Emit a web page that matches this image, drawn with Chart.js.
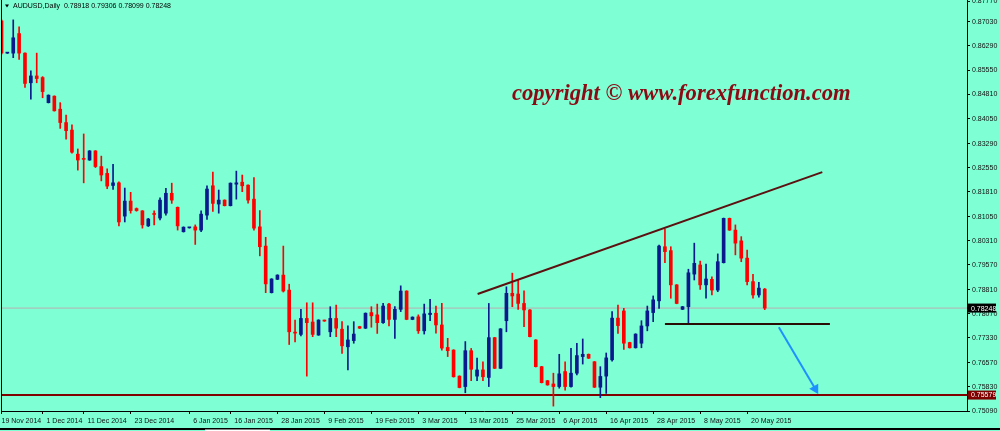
<!DOCTYPE html>
<html>
<head>
<meta charset="utf-8">
<script src="https://cdn.jsdelivr.net/npm/chart.js@4.4.1/dist/chart.umd.min.js"></script>
<style>
  html, body { margin: 0; padding: 0; background: #7fffd4; }
  #wrap { width: 1000px; height: 431px; position: relative; overflow: hidden; }
</style>
</head>
<body>
<div id="wrap"><canvas id="chart" width="1000" height="431"></canvas></div>
<script>
// AUDUSD daily, 19 Nov 2014 .. 22 May 2015 (one entry per bar)
let opens = [
  0.8706, 0.8607, 0.8607, 0.8667, 0.8607, 0.8516, 0.8537, 0.8532, 0.8455, 0.8475,
  0.8435, 0.8394, 0.8371, 0.8297, 0.8284, 0.8279, 0.8307, 0.8259, 0.8238, 0.8201,
  0.8209, 0.8107, 0.8153, 0.8130, 0.8123, 0.8077, 0.8114, 0.8101, 0.8116, 0.8177,
  0.8134, 0.8059, 0.8071, 0.8074, 0.8064, 0.8110, 0.8200, 0.8144, 0.8156, 0.8139,
  0.8205, 0.8211, 0.8202, 0.8159, 0.8074, 0.8015, 0.7872, 0.7913, 0.7926, 0.7880,
  0.7751, 0.7744, 0.7793, 0.7782, 0.7742, 0.7787, 0.7752, 0.7793, 0.7760, 0.7706,
  0.7725, 0.7768, 0.7763, 0.7811, 0.7804, 0.7780, 0.7837, 0.7790, 0.7821, 0.7877,
  0.7790, 0.7798, 0.7755, 0.7805, 0.7809, 0.7773, 0.7704, 0.7696, 0.7616, 0.7584,
  0.7694, 0.7616, 0.7635, 0.7612, 0.7734, 0.7640, 0.7786, 0.7870, 0.7868, 0.7839,
  0.7819, 0.7727, 0.7645, 0.7602, 0.7592, 0.7584, 0.7630, 0.7584, 0.7625, 0.7676,
  0.7683, 0.7660, 0.7582, 0.7616, 0.7666, 0.7794, 0.7816, 0.7719, 0.7703, 0.7717,
  0.7770, 0.7811, 0.7847, 0.8013, 0.8001, 0.7896, 0.7821, 0.7829, 0.7929, 0.7957,
  0.7896, 0.7913, 0.7880, 0.7964, 0.8100, 0.8064, 0.8031, 0.7978, 0.7906, 0.7865,
  0.7883
];
let highs = [
  0.8709, 0.8608, 0.8709, 0.8688, 0.8608, 0.8553, 0.8607, 0.8535, 0.8479, 0.8476,
  0.8455, 0.8417, 0.8387, 0.8313, 0.8359, 0.8308, 0.8308, 0.8291, 0.8252, 0.8266,
  0.8212, 0.8193, 0.8180, 0.8132, 0.8124, 0.8100, 0.8123, 0.8163, 0.8192, 0.8208,
  0.8135, 0.8074, 0.8072, 0.8080, 0.8123, 0.8200, 0.8242, 0.8187, 0.8157, 0.8209,
  0.8245, 0.8233, 0.8203, 0.8225, 0.8124, 0.8042, 0.7915, 0.7927, 0.8015, 0.7898,
  0.7788, 0.7821, 0.7841, 0.7841, 0.7789, 0.7788, 0.7829, 0.7834, 0.7783, 0.7770,
  0.7783, 0.7769, 0.7810, 0.7829, 0.7837, 0.7839, 0.7839, 0.7829, 0.7893, 0.7878,
  0.7798, 0.7804, 0.7837, 0.7852, 0.7831, 0.7839, 0.7732, 0.7697, 0.7617, 0.7722,
  0.7701, 0.7671, 0.7660, 0.7839, 0.7735, 0.7762, 0.7890, 0.7932, 0.7911, 0.7878,
  0.7820, 0.7728, 0.7646, 0.7603, 0.7625, 0.7683, 0.7660, 0.7701, 0.7717, 0.7730,
  0.7684, 0.7661, 0.7645, 0.7687, 0.7814, 0.7834, 0.7824, 0.7720, 0.7746, 0.7786,
  0.7831, 0.7862, 0.8018, 0.8067, 0.8013, 0.7897, 0.7830, 0.7944, 0.8024, 0.7969,
  0.7960, 0.7921, 0.7991, 0.8101, 0.8101, 0.8080, 0.8044, 0.8003, 0.7928, 0.7904,
  0.7885
];
let lows = [
  0.8604, 0.8606, 0.8593, 0.8588, 0.8502, 0.8466, 0.8516, 0.8470, 0.8454, 0.8429,
  0.8376, 0.8343, 0.8300, 0.8248, 0.8209, 0.8278, 0.8256, 0.8215, 0.8191, 0.8189,
  0.8077, 0.8089, 0.8116, 0.8122, 0.8070, 0.8075, 0.8080, 0.8095, 0.8110, 0.8146,
  0.8064, 0.8058, 0.8070, 0.8020, 0.8059, 0.8097, 0.8121, 0.8116, 0.8138, 0.8138,
  0.8159, 0.8182, 0.8147, 0.8064, 0.7985, 0.7872, 0.7871, 0.7912, 0.7874, 0.7713,
  0.7721, 0.7739, 0.7616, 0.7737, 0.7741, 0.7784, 0.7737, 0.7737, 0.7686, 0.7635,
  0.7717, 0.7762, 0.7762, 0.7766, 0.7747, 0.7778, 0.7770, 0.7732, 0.7814, 0.7789,
  0.7789, 0.7747, 0.7745, 0.7786, 0.7748, 0.7696, 0.7676, 0.7613, 0.7580, 0.7565,
  0.7602, 0.7602, 0.7602, 0.7584, 0.7639, 0.7639, 0.7752, 0.7829, 0.7821, 0.7768,
  0.7736, 0.7644, 0.7595, 0.7588, 0.7524, 0.7579, 0.7573, 0.7582, 0.7620, 0.7653,
  0.7670, 0.7581, 0.7550, 0.7563, 0.7662, 0.7747, 0.7698, 0.7702, 0.7702, 0.7703,
  0.7755, 0.7783, 0.7824, 0.7964, 0.7855, 0.7838, 0.7820, 0.7776, 0.7911, 0.7882,
  0.7855, 0.7865, 0.7875, 0.7963, 0.8063, 0.7988, 0.7967, 0.7896, 0.7855, 0.7858,
  0.7820
];
let closes = [
  0.8607, 0.8607, 0.8654, 0.8607, 0.8514, 0.8537, 0.8529, 0.8489, 0.8478, 0.8430,
  0.8394, 0.8369, 0.8303, 0.8279, 0.8281, 0.8307, 0.8259, 0.8233, 0.8199, 0.8209,
  0.8089, 0.8153, 0.8124, 0.8124, 0.8080, 0.8098, 0.8112, 0.8156, 0.8177, 0.8156,
  0.8077, 0.8073, 0.8071, 0.8064, 0.8113, 0.8190, 0.8146, 0.8156, 0.8139, 0.8208,
  0.8209, 0.8200, 0.8156, 0.8070, 0.8013, 0.7899, 0.7914, 0.7926, 0.7877, 0.7752,
  0.7748, 0.7793, 0.7780, 0.7744, 0.7788, 0.7785, 0.7793, 0.7763, 0.7709, 0.7727,
  0.7745, 0.7763, 0.7809, 0.7801, 0.7780, 0.7831, 0.7790, 0.7821, 0.7877, 0.7790,
  0.7797, 0.7755, 0.7807, 0.7809, 0.7773, 0.7702, 0.7694, 0.7614, 0.7581, 0.7694,
  0.7637, 0.7635, 0.7614, 0.7734, 0.7640, 0.7761, 0.7870, 0.7862, 0.7839, 0.7819,
  0.7737, 0.7645, 0.7596, 0.7589, 0.7584, 0.7623, 0.7584, 0.7625, 0.7679, 0.7683,
  0.7671, 0.7582, 0.7615, 0.7672, 0.7794, 0.7771, 0.7717, 0.7703, 0.7745, 0.7770,
  0.7816, 0.7850, 0.8015, 0.7998, 0.7896, 0.7839, 0.7829, 0.7933, 0.7962, 0.7896,
  0.7914, 0.7880, 0.7967, 0.8100, 0.8064, 0.8024, 0.7978, 0.7906, 0.7865, 0.7886,
  0.78248
];

// time axis labels (bar index -> text)
let dateBars = [0, 7, 14, 22, 32, 39, 47, 55, 63, 71, 79, 87, 95, 103, 111, 119, 127];
let dateText = ["19 Nov 2014", "1 Dec 2014", "11 Dec 2014", "23 Dec 2014", "6 Jan 2015",
  "16 Jan 2015", "28 Jan 2015", "9 Feb 2015", "19 Feb 2015", "3 Mar 2015", "13 Mar 2015",
  "25 Mar 2015", "6 Apr 2015", "16 Apr 2015", "28 Apr 2015", "8 May 2015", "20 May 2015"];

// price axis labels
let priceTicks = [0.87770, 0.87030, 0.86290, 0.85550, 0.84810, 0.84050, 0.83290, 0.82550,
  0.81810, 0.81050, 0.80310, 0.79570, 0.78810, 0.78070, 0.77330, 0.76570, 0.75830, 0.75090];

// drawn objects
let bidPrice = 0.78248;
let supportPrice = 0.75579;
let trendX = [81.1, 139.8];
let trendY = [0.7868, 0.8242];
let neckX = [113.0, 141.1];
let neckY = [0.7776, 0.7776];
let arrowX = [132.4, 138.6];
let arrowY = [0.7766, 0.7577];

const X_MIN = -0.085, X_MAX = 164.45;
const Y_MIN = 0.7509, Y_MAX = 0.8770;
const BULL = "#0a1a8c", BEAR = "#ff0000";
const BG = "#7fffd4";

function candleColor(i) {
  return closes[i] >= opens[i] ? BULL : BEAR;
}

let wickData = opens.map((o, i) => ({ x: i, y: [lows[i], highs[i]] }));
let bodyData = opens.map((o, i) => ({ x: i, y: [o, closes[i]] }));

function pts(xs, ys) {
  return xs.map((x, i) => ({ x: x, y: ys[i] }));
}

const overlay = {
  id: "overlay",
  beforeDraw(chart) {
    const c = chart.ctx;
    c.save();
    c.fillStyle = BG;
    c.fillRect(0, 0, chart.width, chart.height);
    c.restore();
  },
  afterDraw(chart) {
    const c = chart.ctx;
    const a = chart.chartArea;
    const ys = chart.scales.y;
    c.save();
    // frame left side
    c.strokeStyle = "#000";
    c.lineWidth = 1;
    c.beginPath();
    c.moveTo(a.left + 0.5, 0);
    c.lineTo(a.left + 0.5, a.bottom);
    c.stroke();

    // top price label sits half outside the window
    c.fillStyle = "#111";
    c.font = '7px "Liberation Sans"';
    c.textBaseline = "middle";
    c.textAlign = "left";
    c.fillText("0.87770", 972, 1);
    c.fillRect(967, 1, 3, 1);

    // title
    c.fillStyle = "#000";
    c.beginPath();
    c.moveTo(5, 4.5); c.lineTo(9, 4.5); c.lineTo(7, 7.5); c.closePath();
    c.fill();
    c.fillText("AUDUSD,Daily  0.78918 0.79306 0.78099 0.78248", 13, 6);

    // copyright
    c.fillStyle = "#8b0a14";
    let size = 21;
    c.font = 'italic bold ' + size + 'px "Liberation Serif"';
    const txt = "copyright \u00a9 www.forexfunction.com";
    size = size * 338 / c.measureText(txt).width;
    c.font = 'italic bold ' + size.toFixed(1) + 'px "Liberation Serif"';
    c.textBaseline = "alphabetic";
    c.fillText(txt, 512, 100);

    // price boxes on the axis
    function box(v, fill) {
      const y = ys.getPixelForValue(v);
      c.fillStyle = fill;
      c.fillRect(968, y - 4.5, 28, 9);
      c.fillStyle = "#fff";
      c.font = '7px "Liberation Sans"';
      c.textBaseline = "middle";
      c.fillText(v.toFixed(5), 971, y + 0.5);
    }
    box(bidPrice, "#000");
    box(supportPrice, "#800000");

    // window bottom edge
    c.fillStyle = "#000";
    c.fillRect(0, 428, 1000, 2);
    c.fillStyle = "#fff";
    c.fillRect(205, 429.5, 65, 2);
    c.restore();
  }
};

new Chart(document.getElementById("chart"), {
  type: "bar",
  data: {
    datasets: [
      {
        type: "line", label: "bid", data: pts([X_MIN, X_MAX], [bidPrice, bidPrice]),
        borderColor: "#b9aeb2", borderWidth: 1, pointRadius: 0, order: 5
      },
      {
        type: "line", label: "support", data: pts([X_MIN, X_MAX], [supportPrice, supportPrice]),
        borderColor: "#800000", borderWidth: 2, pointRadius: 0, order: 4
      },
      {
        label: "wick", data: wickData, grouped: false, barThickness: 1,
        backgroundColor: ctx => candleColor(ctx.dataIndex), order: 3
      },
      {
        label: "body", data: bodyData, grouped: false, barThickness: 3, minBarLength: 1,
        backgroundColor: ctx => candleColor(ctx.dataIndex), order: 2
      },
      {
        type: "line", label: "trend", data: pts(trendX, trendY),
        borderColor: "#5c1010", borderWidth: 2, pointRadius: 0, order: 1
      },
      {
        type: "line", label: "neck", data: pts(neckX, neckY),
        borderColor: "#2a0c04", borderWidth: 2, pointRadius: 0, order: 1
      },
      {
        type: "line", label: "arrow", data: pts(arrowX, arrowY),
        borderColor: "#1e90ff", backgroundColor: "#1e90ff", borderWidth: 2,
        pointRadius: [0, 4], pointStyle: "triangle", rotation: 150, order: 1
      }
    ]
  },
  options: {
    responsive: false,
    animation: false,
    devicePixelRatio: 1,
    layout: { autoPadding: false, padding: { left: 1, right: 0, top: 0, bottom: 0 } },
    plugins: { legend: { display: false }, tooltip: { enabled: false } },
    scales: {
      x: {
        type: "linear",
        offset: false,
        min: X_MIN, max: X_MAX,
        afterBuildTicks: s => { s.ticks = dateBars.map(v => ({ value: v })); },
        afterFit: s => { s.height = 20; s.paddingLeft = 0; s.paddingRight = 0; },
        ticks: {
          autoSkip: false, maxRotation: 0, align: "start", padding: 3,
          color: "#111", font: { family: "Liberation Sans", size: 7 },
          callback: (v, i) => (i === 0 ? "" : "  ") + dateText[i]
        },
        grid: { offset: false, drawOnChartArea: false, drawTicks: true, tickLength: 3, color: "#000" },
        border: { display: true, color: "#000", width: 1 }
      },
      y: {
        position: "right",
        min: Y_MIN, max: Y_MAX,
        afterBuildTicks: s => { s.ticks = priceTicks.filter(v => v <= Y_MAX).map(v => ({ value: v })); },
        afterFit: s => { s.width = 33; s.paddingTop = 0; s.paddingBottom = 0; },
        ticks: {
          padding: 2, color: "#111", font: { family: "Liberation Sans", size: 7 },
          callback: v => v.toFixed(5)
        },
        grid: { drawOnChartArea: false, drawTicks: true, tickLength: 3, color: "#000" },
        border: { display: true, color: "#000", width: 1 }
      }
    }
  },
  plugins: [overlay]
});
</script>
</body>
</html>
